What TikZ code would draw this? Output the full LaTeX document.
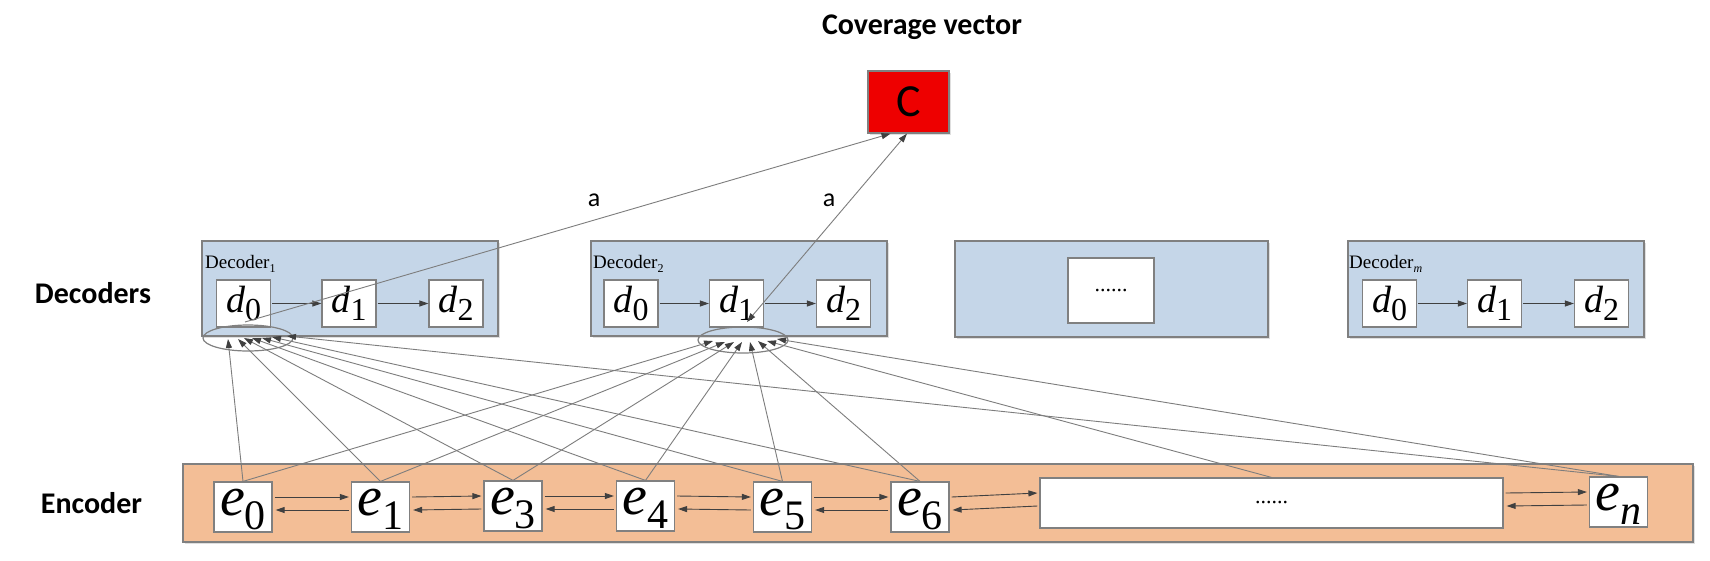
\documentclass[tikz,border=0pt]{standalone}
\usepackage{fontspec}
\setmainfont{Liberation Serif}[ItalicFont={Liberation Serif Italic}]
\newfontfamily\calib{Carlito}
\usetikzlibrary{arrows.meta,shadows,calc,shapes.geometric}
\definecolor{decfill}{RGB}{197,214,232}
\definecolor{encfill}{RGB}{243,190,150}
\definecolor{bord}{RGB}{128,128,128}
\definecolor{lin}{RGB}{125,125,125}
\definecolor{tipc}{RGB}{64,64,64}
\definecolor{cred}{RGB}{238,0,0}
\newcommand{\elab}[1]{{\fontsize{56}{56}\selectfont\itshape e}\raisebox{-14pt}{\fontsize{42}{42}\selectfont #1}}
\newcommand{\dlab}[1]{{\fontsize{38}{38}\selectfont\itshape d}\raisebox{-8pt}{\fontsize{32}{32}\selectfont #1}}
\newcommand{\declab}[1]{{\fontsize{19}{19}\selectfont Decoder}\raisebox{-4pt}{\fontsize{12}{12}\selectfont #1}}
\begin{document}
\begin{tikzpicture}[x=1pt,y=-1pt,
  bigbox/.style={draw=bord, line width=1.3pt, inner sep=0pt,
    drop shadow={shadow xshift=1.5pt, shadow yshift=-1.5pt, opacity=0.25}},
  decbox/.style={bigbox, fill=decfill},
  encbox/.style={bigbox, fill=encfill},
  dnode/.style={draw=bord, line width=1.2pt, fill=white, inner sep=0pt,
    minimum width=54pt, minimum height=47pt, text height=25pt, text depth=8pt},
  enode/.style={draw=bord, line width=1.2pt, fill=white, inner sep=0pt,
    minimum width=58pt, minimum height=50pt, text height=26pt, text depth=10pt},
  wbox/.style={draw=bord, line width=1.2pt, fill=white, inner sep=0pt},
  harrow/.style={draw=tipc, line width=0.9pt, -{Triangle[length=9pt,width=6pt]}},
  att/.style={draw=lin, line width=0.9pt, -{Triangle[length=9pt,width=6pt,color=tipc]}},
  ell/.style={draw=bord, line width=1.2pt, ellipse, inner sep=0pt, minimum width=90pt, minimum height=26pt},
  head/.style={font=\calib\bfseries\fontsize{30}{30}\selectfont, inner sep=0pt},
  albl/.style={font=\calib\fontsize{26}{26}\selectfont, inner sep=0pt},
  dots/.style={font=\fontsize{22}{22}\selectfont}
]
\fill[white] (0,0) rectangle (1710,560);
\useasboundingbox (0,0) rectangle (1710,560);

% titles
\node[head] (cov) at (922,27) {Coverage vector};
\node[head] (decs) at (93,293) {Decoders};
\node[head] (encs) at (91.5,503) {Encoder};

% coverage box
\node[draw=bord, line width=1.2pt, fill=cred, minimum width=81pt, minimum height=62pt, inner sep=0pt,
  font=\calib\fontsize{46}{46}\selectfont,
  drop shadow={shadow xshift=1.5pt, shadow yshift=-1.5pt, opacity=0.25}] (C) at (908.5,102) {C};

% decoder containers
\node[decbox, minimum width=296pt, minimum height=95pt] (D1) at (350,288.5) {};
\node[decbox, minimum width=296pt, minimum height=95pt] (D2) at (739,288.5) {};
\node[decbox, minimum width=313pt, minimum height=96pt] (D3) at (1111.5,289) {};
\node[decbox, minimum width=296pt, minimum height=96pt] (Dm) at (1496,289) {};

% encoder container
\node[encbox, minimum width=1510pt, minimum height=78pt] (E) at (938,503) {};

% decoder labels
\node[anchor=base west, inner sep=0pt] (l1) at (205,268) {\declab{1}};
\node[anchor=base west, inner sep=0pt] (l2) at (593,268) {\declab{2}};
\node[anchor=base west, inner sep=0pt] (lm) at (1349,268) {\declab{\itshape m}};

% decoder cells
\node[dnode] (a0) at (243.5,303.5) {\dlab{0}};
\node[dnode] (a1) at (349,303.5) {\dlab{1}};
\node[dnode] (a2) at (456,303.5) {\dlab{2}};
\node[dnode] (b0) at (631,303.5) {\dlab{0}};
\node[dnode] (b1) at (736.5,303.5) {\dlab{1}};
\node[dnode] (b2) at (843.5,303.5) {\dlab{2}};
\node[dnode] (m0) at (1389.5,303.5) {\dlab{0}};
\node[dnode] (m1) at (1494.5,303.5) {\dlab{1}};
\node[dnode] (m2) at (1601.5,303.5) {\dlab{2}};
\node[wbox, minimum width=86pt, minimum height=65pt, dots] (x3) at (1111,290.5) {......};

\foreach \p/\q in {a0/a1,a1/a2,b0/b1,b1/b2,m0/m1,m1/m2}
  \draw[harrow] ($(\p.east)+(1,0)$) -- (\q.west);

% encoder cells
\node[enode] (e0) at (243,507) {\elab{0}};
\node[enode] (e1) at (380.5,507) {\elab{1}};
\node[enode] (e3) at (513,506) {\elab{3}};
\node[enode] (e4) at (645.5,506) {\elab{4}};
\node[enode] (e5) at (782.5,507) {\elab{5}};
\node[enode] (e6) at (920,507) {\elab{6}};
\node[wbox, minimum width=463pt, minimum height=50pt, dots] (dx) at (1271.5,503) {......};
\node[enode] (en) at (1618.5,502) {\elab{\itshape n}};

\foreach \p/\q in {e0/e1,e1/e3,e3/e4,e4/e5,e5/e6,e6/dx,dx/en}{
  \draw[harrow] ($(\p.east)+(2,-10)$) -- ($(\q.west)+(-2,-10)$);
  \draw[harrow] ($(\q.west)+(-2,3)$) -- ($(\p.east)+(3,3)$);
}

% attention ellipses
\node[ell] (el1) at (248,338) {};
\node[ell] (el2) at (743,340) {};

\coordinate (t1a) at (228,339);
\coordinate (t1b) at (238,339);
\coordinate (t1c) at (244,338);
\coordinate (t1d) at (252,338);
\coordinate (t1e) at (262,338);
\coordinate (t1f) at (272,337);
\coordinate (t1g) at (287,336);
\coordinate (t2a) at (713,341);
\coordinate (t2b) at (725,342);
\coordinate (t2c) at (734,342);
\coordinate (t2d) at (742,342);
\coordinate (t2e) at (750,342);
\coordinate (t2f) at (758,341);
\coordinate (t2g) at (767,341);
\coordinate (t2h) at (777,339);

\foreach \s/\t in {e0/t1a,e1/t1b,e3/t1c,e4/t1d,e5/t1e,e6/t1f,en/t1g,
                   e0/t2a,e1/t2b,e3/t2c,e4/t2d,e5/t2e,e6/t2f,dx/t2g,en/t2h}
  \draw[att] (\s.north) -- (\t);

% coverage connections
\coordinate (ca) at (245,322);
\coordinate (cb) at (747,322);
\coordinate (ct1) at ($(C.south)+(-18,0)$);
\coordinate (ct2) at ($(C.south)+(-1.5,0)$);
\draw[att] (ca) -- (ct1);
\draw[att, {Triangle[length=9pt,width=6pt,color=tipc]}-{Triangle[length=9pt,width=6pt,color=tipc]}] (cb) -- (ct2);

\node[albl] (aa) at (594,200) {a};
\node[albl] (ab) at (829,200) {a};
\end{tikzpicture}
\end{document}
